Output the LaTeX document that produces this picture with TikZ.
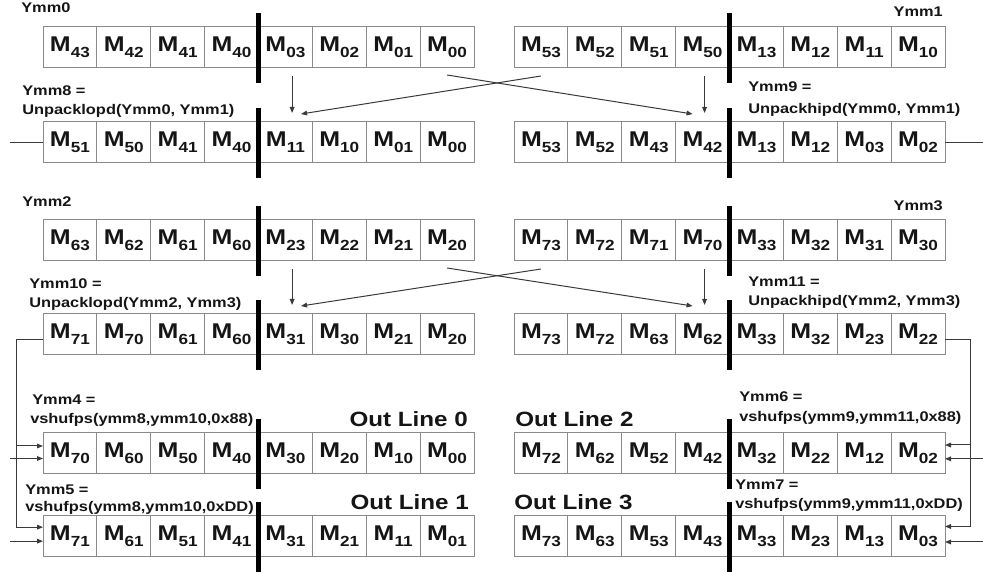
\documentclass[tikz,border=0pt]{standalone}
\usepackage{fontspec}
\setmainfont{Liberation Sans}[FakeStretch=1.17]
\usetikzlibrary{arrows.meta}
\definecolor{cellgray}{HTML}{8A8A8A}
\definecolor{ink}{HTML}{151515}
\definecolor{wire}{HTML}{3A3A3A}
\newcommand{\cellM}[1]{M\raisebox{-4.5pt}{\fontsize{11pt}{13pt}\selectfont #1}}
\newcommand{\regrow}[4]{\foreach \s [count=\i from 0] in {#4}{\node[cellbox] (#1-\i) at ({#2+\i*53.875},#3) {\cellM{\s}};}}
\tikzset{
  cellbox/.style={draw=cellgray, line width=0.75pt, anchor=north west,
    minimum width=40.406pt, minimum height=30.75pt, inner sep=0pt, outer sep=0pt,
    font=\bfseries\fontsize{16pt}{19pt}\selectfont, text=ink},
  bar/.style={line width=3.2pt, black},
  conn/.style={line width=0.75pt, wire},
  arr/.style={conn, -{Triangle[length=4.5pt,width=3.5pt]}},
  lbl/.style={inner sep=0pt, anchor=base west, text=ink,
    font=\bfseries\fontsize{10.5pt}{12pt}\selectfont},
  lblr/.style={lbl, anchor=base east},
  outl/.style={inner sep=0pt, text=ink, font=\bfseries\fontsize{15.5pt}{18pt}\selectfont}
}
\begin{document}
\begin{tikzpicture}[x=0.75pt, y=-0.75pt]
\useasboundingbox (0,0) rectangle (983,573);
% register rows
\regrow{aL}{43}{27}{43,42,41,40,03,02,01,00}
\regrow{aR}{514}{27}{53,52,51,50,13,12,11,10}
\regrow{bL}{43}{122}{51,50,41,40,11,10,01,00}
\regrow{bR}{514}{122}{53,52,43,42,13,12,03,02}
\regrow{cL}{43}{220}{63,62,61,60,23,22,21,20}
\regrow{cR}{514}{220}{73,72,71,70,33,32,31,30}
\regrow{dL}{43}{314}{71,70,61,60,31,30,21,20}
\regrow{dR}{514}{314}{73,72,63,62,33,32,23,22}
\regrow{eL}{43}{433}{70,60,50,40,30,20,10,00}
\regrow{eR}{514}{433}{72,62,52,42,32,22,12,02}
\regrow{fL}{43}{516}{71,61,51,41,31,21,11,01}
\regrow{fR}{514}{516}{73,63,53,43,33,23,13,03}
% lane dividers
\foreach \r in {aL,aR,bL,bR,cL,cR,dL,dR,eL,eR,fL,fR}
  \draw[bar] ([yshift=10.5pt]\r-4.north west) -- ([yshift=-11.25pt]\r-4.south west);
% unpack arrows
\foreach \ra/\rb in {a/b,c/d}{
  \draw[arr] ([xshift=5pt,yshift=-6pt]\ra L-4.south) -- ([xshift=5pt,yshift=6.75pt]\rb L-4.north);
  \draw[arr] ([yshift=-6pt]\ra R-0.south) -- ([xshift=11.7pt,yshift=6pt]\rb L-4.north);
  \draw[arr] ([yshift=-5.25pt]\ra L-7.south) -- ([xshift=-7.5pt,yshift=6pt]\rb R-3.north);
  \draw[arr] ([xshift=1.5pt,yshift=-6pt]\ra R-3.south) -- ([xshift=1.5pt,yshift=6.75pt]\rb R-3.north);
}
% side connectors
\coordinate (stubL) at (10,0);
\coordinate (stubR) at (983,0);
\coordinate (busL) at (16,0);
\coordinate (busR) at (970,0);
\draw[conn] (bL-0.west) -- (bL-0.west -| stubL);
\draw[conn] (bR-7.east) -- (bR-7.east -| stubR);
\coordinate (dLo) at ([yshift=-3.5pt]dL-0.west);
\coordinate (eLu) at ([yshift=5.625pt]eL-0.west);
\coordinate (eLd) at ([yshift=-3.75pt]eL-0.west);
\coordinate (fLu) at ([yshift=7pt]fL-0.west);
\coordinate (fLd) at ([yshift=-3.5pt]fL-0.west);
\draw[arr] (dLo) -- (dLo -| busL) |- (fLu);
\draw[arr] (eLu -| busL) -- (eLu);
\draw[arr] (eLd -| stubL) -- (eLd);
\draw[arr] (fLd -| stubL) -- (fLd);
\coordinate (dRo) at ([yshift=-4pt]dR-7.east);
\coordinate (eRu) at ([yshift=6.375pt]eR-7.east);
\coordinate (eRd) at ([yshift=-4pt]eR-7.east);
\coordinate (fRu) at ([yshift=7.5pt]fR-7.east);
\coordinate (fRd) at ([yshift=-4.125pt]fR-7.east);
\draw[arr] (dRo) -- (dRo -| busR) |- (fRu);
\draw[arr] (eRu -| busR) -- (eRu);
\draw[arr] (eRd -| stubR) -- (eRd);
\draw[arr] (fRd -| stubR) -- (fRd);
% labels
\node[lbl] (t0) at (21,13) {Ymm0};
\node[lblr] (t1) at (943,17) {Ymm1};
\node[lbl] (t8a) at (22,96) {Ymm8 =};
\node[lbl] (t8b) at (22,115) {Unpacklopd(Ymm0, Ymm1)};
\node[lbl] (t9a) at (748,92) {Ymm9 =};
\node[lbl] (t9b) at (748,114) {Unpackhipd(Ymm0, Ymm1)};
\node[lbl] (t2) at (22,207) {Ymm2};
\node[lblr] (t3) at (943,211) {Ymm3};
\node[lbl] (t10a) at (29,289) {Ymm10 =};
\node[lbl] (t10b) at (29,308) {Unpacklopd(Ymm2, Ymm3)};
\node[lbl] (t11a) at (748,287) {Ymm11 =};
\node[lbl] (t11b) at (748,306) {Unpackhipd(Ymm2, Ymm3)};
\node[lbl] (t4a) at (32,405) {Ymm4 =};
\node[lbl] (t4b) at (30,424) {vshufps(ymm8,ymm10,0x88)};
\node[lbl] (t5a) at (25,495) {Ymm5 =};
\node[lbl] (t5b) at (25,512) {vshufps(ymm8,ymm10,0xDD)};
\node[lbl] (t6a) at (739,402) {Ymm6 =};
\node[lbl] (t6b) at (739,422) {vshufps(ymm9,ymm11,0x88)};
\node[lbl] (t7a) at (735,490) {Ymm7 =};
\node[lbl] (t7b) at (735,509) {vshufps(ymm9,ymm11,0xDD)};
\node[outl, anchor=base east] (o0) at (468,427) {Out Line 0};
\node[outl, anchor=base east] (o1) at (469,510) {Out Line 1};
\node[outl, anchor=base west] (o2) at (515,427) {Out Line 2};
\node[outl, anchor=base west] (o3) at (514,510) {Out Line 3};
\end{tikzpicture}
\end{document}
